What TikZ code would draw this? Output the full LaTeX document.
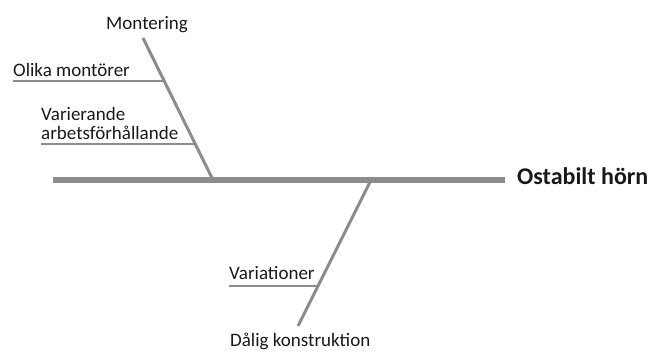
\documentclass[tikz,border=0pt]{standalone}
\usepackage{fontspec}
\setmainfont{Carlito}
\definecolor{bonegray}{RGB}{140,140,140}
\definecolor{inkdark}{RGB}{25,25,25}
\begin{document}
\begin{tikzpicture}[x=1pt,y=-1pt,
  spine/.style={draw=bonegray,line width=6pt},
  bone/.style={draw=bonegray,line width=3pt},
  rib/.style={draw=bonegray,line width=2pt},
  cause/.style={inner sep=0pt,text=inkdark,font=\fontsize{19}{19}\selectfont},
  effect/.style={inner sep=0pt,text=inkdark,font=\fontsize{24}{28}\selectfont\bfseries}]
\useasboundingbox (0,0) rectangle (649,352);
% main spine and effect
\coordinate (tail) at (53,180);
\coordinate (head) at (505,180);
\node[effect,anchor=base west] (effect) at (517,185) {Ostabilt hörn};
\draw[spine] (tail) -- (head);
% upper bone: Montering
\coordinate (upTop) at (143,38);
\coordinate (upFoot) at (213,180);
\node[cause,anchor=base] (montering) at (147,30) {Montering};
\draw[bone] (upTop) -- (upFoot);
\node[cause,anchor=base west] (olika) at (13,77) {Olika montörer};
\coordinate (olikaEnd) at (164,81);
\draw[rib] (13,81) -- (olikaEnd);
\node[cause,anchor=base west,align=left] (varierande) at (41,140) {Varierande\\arbetsförhållande};
\coordinate (varEnd) at (195,144);
\draw[rib] (41,144) -- (varEnd);
% lower bone: Dålig konstruktion
\coordinate (lowTop) at (371,180);
\coordinate (lowFoot) at (298,326);
\draw[bone] (lowTop) -- (lowFoot);
\node[cause,anchor=base west] (dalig) at (230,347) {Dålig konstruktion};
\node[cause,anchor=base west] (variationer) at (229,280) {Variationer};
\coordinate (variEnd) at (318,286);
\draw[rib] (229,286) -- (variEnd);
\end{tikzpicture}
\end{document}
